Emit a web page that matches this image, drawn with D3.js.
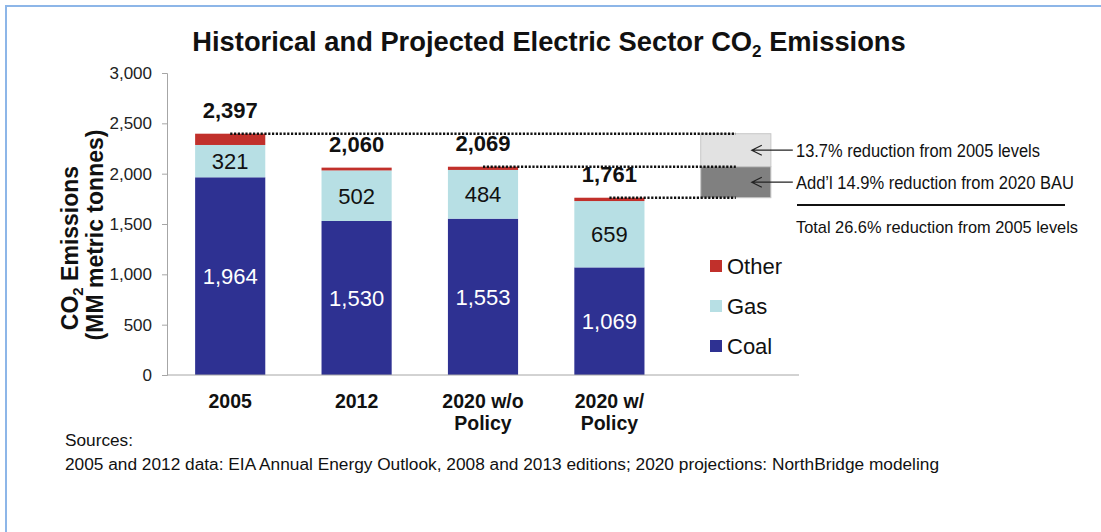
<!DOCTYPE html>
<html>
<head>
<meta charset="utf-8">
<script src="https://cdn.jsdelivr.net/npm/d3@7"></script>
<style>
  body { margin: 0; background: #fff; }
  svg { display: block; font-family: "Liberation Sans", Arial, sans-serif; }
</style>
</head>
<body>
<svg id="chart" width="1101" height="532"></svg>
<script>
// values
const categories = ["2005", "2012", "2020 w/o Policy", "2020 w/ Policy"];
const labelLines = [["2005"], ["2012"], ["2020 w/o", "Policy"], ["2020 w/", "Policy"]];
const coal  = [1964, 1530, 1553, 1069];
const gas   = [321, 502, 484, 659];
const other = [112, 28, 32, 33];
const totals = [2397, 2060, 2069, 1761];
const yTicks = [0, 500, 1000, 1500, 2000, 2500, 3000];
const seriesKeys = ["coal", "gas", "other"];
const legendNames = ["Other", "Gas", "Coal"];
// reduction wedge: [from category, level]
const refLines = [["2005", 2397], ["2020 w/o Policy", 2069], ["2020 w/ Policy", 1761]];
const notes = ["13.7% reduction from 2005 levels", "Add\u2019l 14.9% reduction from 2020 BAU"];
const totalNote = "Total 26.6% reduction from 2005 levels";

const colors = { coal: "#2e3192", gas: "#b7dfe4", other: "#c1302b" };

const svg = d3.select("#chart");

// frame (only top and left edges are in view)
svg.append("path").attr("d", "M6,532V6H1101")
  .attr("fill", "none").attr("stroke", "#8db6e8").attr("stroke-width", 2);

const slots = [...categories, "wedge"];
const x = d3.scaleBand().domain(slots).range([167, 799])
  .paddingInner(0.445).paddingOuter(0.2225);
const y = d3.scaleLinear().domain([0, 3000]).range([375, 73]);

const table = categories.map((c, i) => ({ cat: c, coal: coal[i], gas: gas[i], other: other[i] }));
const stacked = d3.stack().keys(seriesKeys)(table);

// title
const title = svg.append("text").attr("x", 549).attr("y", 51).attr("text-anchor", "middle")
  .attr("font-size", 27.3).attr("font-weight", "bold").attr("fill", "#111");
title.append("tspan").text("Historical and Projected Electric Sector CO");
title.append("tspan").attr("font-size", 17).attr("dy", 6).text("2");
title.append("tspan").attr("dy", -6).text(" Emissions");

// y axis
const yAxis = svg.append("g").attr("transform", "translate(167,0)")
  .call(d3.axisLeft(y).tickValues(yTicks).tickSize(5).tickPadding(10).tickFormat(d3.format(",")));
yAxis.selectAll("path,line").attr("stroke", "#a6a6a6");
yAxis.selectAll("text").attr("font-size", 17).attr("fill", "#222").attr("font-family", "Liberation Sans, Arial");

// y title
const yt = svg.append("g").attr("transform", "translate(0,238) rotate(-90)")
  .attr("font-weight", "bold").attr("font-size", 23).attr("fill", "#111").attr("text-anchor", "middle");
const l1 = yt.append("text").attr("x", -10).attr("y", 78);
l1.append("tspan").text("CO");
l1.append("tspan").attr("font-size", 15).attr("dy", 5).text("2");
l1.append("tspan").attr("dy", -5).text(" Emissions");
yt.append("text").attr("x", 3).attr("y", 103).text("(MM metric tonnes)");

// bars
svg.append("g").selectAll("g").data(stacked).join("g")
  .attr("fill", d => colors[d.key])
  .selectAll("rect").data(d => d).join("rect")
  .attr("x", d => x(d.data.cat))
  .attr("width", x.bandwidth())
  .attr("y", d => y(d[1]))
  .attr("height", d => y(d[0]) - y(d[1]));

// segment labels (coal, gas)
stacked.filter(s => s.key !== "other").forEach(s => {
  svg.append("g").selectAll("text").data(s).join("text")
    .attr("x", d => x(d.data.cat) + x.bandwidth() / 2)
    .attr("y", d => (y(d[0]) + y(d[1])) / 2 + 8)
    .attr("text-anchor", "middle").attr("font-size", 22)
    .attr("fill", s.key === "coal" ? "#fff" : "#111")
    .text(d => d3.format(",")(d.data[s.key]));
});

// totals
svg.append("g").selectAll("text").data(categories).join("text")
  .attr("x", d => x(d) + x.bandwidth() / 2)
  .attr("y", (d, i) => y(totals[i]) - 16)
  .attr("text-anchor", "middle").attr("font-size", 22).attr("font-weight", "bold").attr("fill", "#111")
  .text((d, i) => d3.format(",")(totals[i]));

// x axis
svg.append("line").attr("x1", 167).attr("x2", 799).attr("y1", y(0)).attr("y2", y(0))
  .attr("stroke", "#a6a6a6");
const xl = svg.append("g").selectAll("text").data(categories).join("text")
  .attr("x", d => x(d) + x.bandwidth() / 2).attr("y", 408)
  .attr("text-anchor", "middle").attr("font-size", 19.5).attr("font-weight", "bold").attr("fill", "#111");
xl.selectAll("tspan").data((d, i) => labelLines[i]).join("tspan")
  .attr("x", function () { return this.parentNode.getAttribute("x"); })
  .attr("dy", (d, i) => i ? 22 : 0).text(d => d);

// reduction wedge box
const wx = x("wedge");
const levels = refLines.map(r => r[1]);
svg.append("rect").attr("x", wx).attr("width", x.bandwidth())
  .attr("y", y(levels[0])).attr("height", y(levels[1]) - y(levels[0]))
  .attr("fill", "#e2e2e2").attr("stroke", "#c8c8c8");
svg.append("rect").attr("x", wx).attr("width", x.bandwidth())
  .attr("y", y(levels[1])).attr("height", y(levels[2]) - y(levels[1]))
  .attr("fill", "#808080").attr("stroke", "#c8c8c8");

// dotted reference lines
svg.append("g").selectAll("line").data(refLines).join("line")
  .attr("x1", d => x(d[0]) + x.bandwidth() / 2)
  .attr("x2", wx + x.bandwidth() / 2)
  .attr("y1", d => y(d[1])).attr("y2", d => y(d[1]))
  .attr("stroke", "#111").attr("stroke-width", 2.5).attr("stroke-dasharray", "2.2,1.6");

// arrows and notes
const noteWidths = [244, 278];
notes.forEach((n, i) => {
  const my = (y(levels[i]) + y(levels[i + 1])) / 2;
  const tip = wx + x.bandwidth() / 2 + 16;
  svg.append("path")
    .attr("d", `M${tip + 10},${my - 5}L${tip},${my}L${tip + 10},${my + 5}M${tip},${my}L${tip + 41},${my}`)
    .attr("fill", "none").attr("stroke", "#222").attr("stroke-width", 1.2);
  svg.append("text").attr("x", 796).attr("y", my + 7).attr("font-size", 18).attr("fill", "#111")
    .attr("textLength", noteWidths[i]).attr("lengthAdjust", "spacingAndGlyphs").text(n);
});
svg.append("line").attr("x1", 797).attr("x2", 1065).attr("y1", 205).attr("y2", 205)
  .attr("stroke", "#111").attr("stroke-width", 2);
svg.append("text").attr("x", 796).attr("y", 233).attr("font-size", 17).attr("fill", "#111")
  .attr("textLength", 282).attr("lengthAdjust", "spacingAndGlyphs").text(totalNote);

// legend
const lg = svg.append("g").selectAll("g").data(legendNames).join("g")
  .attr("transform", (d, i) => `translate(710,${266 + i * 40})`);
lg.append("rect").attr("y", -6).attr("width", 12).attr("height", 12)
  .attr("fill", d => colors[d.toLowerCase()]);
lg.append("text").attr("x", 17).attr("y", 8).attr("font-size", 22).attr("fill", "#111").text(d => d);

// sources
svg.append("text").attr("x", 65).attr("y", 446).attr("font-size", 16).attr("fill", "#111")
  .attr("textLength", 68).attr("lengthAdjust", "spacingAndGlyphs").text("Sources:");
svg.append("text").attr("x", 65).attr("y", 470).attr("font-size", 16).attr("fill", "#111")
  .attr("textLength", 874).attr("lengthAdjust", "spacingAndGlyphs")
  .text("2005 and 2012 data: EIA Annual Energy Outlook, 2008 and 2013 editions; 2020 projections: NorthBridge modeling");
</script>
</body>
</html>
